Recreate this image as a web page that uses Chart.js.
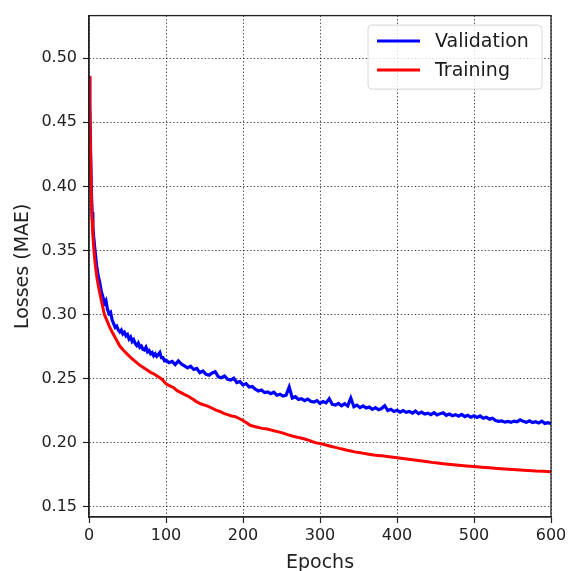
<!DOCTYPE html>
<html>
<head>
<meta charset="utf-8">
<script src="https://cdn.jsdelivr.net/npm/chart.js@4/dist/chart.umd.min.js"></script>
<style>
html,body{margin:0;padding:0;background:#fff;}
#wrap{width:578px;height:571px;position:relative;}
</style>
</head>
<body>
<div id="wrap"><canvas id="c" width="578" height="571"></canvas></div>
<script>
const seriesNames = ['Validation', 'Training'];

const valEpochs = [0,1,2,3,4,5,6,8,10,12,14,16,18,20,22,24,26,28,30,32,34,36,38,40,42,44,46,48,50,52,54,56,58,60,62,64,66,68,70,72,74,76,78,80,82,84,86,88,90,92,94,96,98,
100,104,108,112,116,120,124,128,132,136,140,144,148,152,156,160,164,168,172,176,180,184,188,192,196,200,204,208,212,216,220,224,228,232,236,240,244,248,252,256,260,264,268,272,276,280,284,288,292,296,300,304,308,312,316,320,324,328,332,336,340,344,348,352,356,360,364,368,372,376,380,384,388,392,396,400,404,408,412,416,420,424,428,432,436,440,444,448,452,456,460,464,468,472,476,480,484,488,492,496,500,504,508,512,516,520,524,528,532,536,540,544,548,552,556,560,564,568,572,576,580,584,588,592,596,600];
const valLoss = [0.486,0.465,0.430,0.398,0.380,0.369,0.361,0.349,0.338,0.330,0.325,0.318,0.314,0.309,0.311,0.304,0.301,0.302,0.296,0.293,0.290,0.291,0.288,0.2865,0.288,0.285,0.2862,0.2835,0.2845,0.281,0.2825,0.279,0.2805,0.2775,0.276,0.2778,0.2745,0.2755,0.273,0.2725,0.2745,0.271,0.272,0.2695,0.2705,0.268,0.2695,0.2675,0.269,0.2705,0.2665,0.2665,0.264,
0.2645,0.2625,0.2635,0.2610,0.2640,0.2615,0.2600,0.2585,0.2598,0.2572,0.2580,0.2548,0.2560,0.2535,0.2528,0.2545,0.2555,0.2515,0.2508,0.2522,0.2495,0.2490,0.2505,0.2470,0.2478,0.2452,0.2462,0.2435,0.2440,0.2418,0.2405,0.2412,0.2392,0.2398,0.2384,0.2395,0.2372,0.2380,0.2365,0.2372,0.2435,0.2350,0.2360,0.2338,0.2345,0.2330,0.2342,0.2325,0.2318,0.2330,0.2308,0.2322,0.2312,0.2345,0.2300,0.2295,0.2308,0.2290,0.2305,0.2288,0.2350,0.2282,0.2295,0.2275,0.2288,0.2272,0.2280,0.2262,0.2275,0.2258,0.2268,0.2290,0.2252,0.2262,0.2245,0.2255,0.2240,0.2252,0.2238,0.2245,0.2232,0.2248,0.2228,0.2240,0.2225,0.2232,0.2220,0.2235,0.2218,0.2228,0.2235,0.2215,0.2225,0.2212,0.2220,0.2208,0.2222,0.2205,0.2215,0.2200,0.2212,0.2198,0.2210,0.2192,0.2200,0.2185,0.2192,0.2175,0.2168,0.2172,0.2162,0.2168,0.2160,0.2170,0.2165,0.2180,0.2168,0.2160,0.2172,0.2158,0.2165,0.2155,0.2170,0.2152,0.2158,0.2150];

const trainEpochs = [0,1,2,3,4,5,6,7,8,10,12,14,16,20,25,27,30,35,40,45,50,55,60,65,70,75,80,85,90,95,100,105,110,115,120,125,130,135,140,145,150,155,160,165,170,175,180,185,190,195,200,205,210,215,220,225,230,235,240,245,250,255,260,265,270,275,280,285,290,295,300,305,310,315,320,325,330,335,340,345,350,355,360,365,370,375,380,385,390,395,400,405,410,415,420,425,430,435,440,445,450,460,470,480,490,500,510,520,530,540,550,560,570,580,590,600];
const trainLoss = [0.486,0.462,0.425,0.392,0.374,0.362,0.353,0.346,0.340,0.330,0.323,0.317,0.311,0.300,0.293,0.290,0.2865,0.281,0.2755,0.272,0.269,0.266,0.2635,0.261,0.259,0.257,0.255,0.2535,0.2515,0.2495,0.246,0.2445,0.243,0.2405,0.239,0.2375,0.236,0.234,0.232,0.2305,0.2295,0.2285,0.227,0.2255,0.2245,0.223,0.222,0.221,0.2205,0.219,0.2175,0.2155,0.2135,0.2128,0.212,0.2113,0.211,0.2103,0.2095,0.2088,0.208,0.207,0.206,0.2052,0.2045,0.2038,0.203,0.2022,0.201,0.200,0.1995,0.1988,0.198,0.1972,0.1965,0.1957,0.195,0.1943,0.1937,0.193,0.1925,0.192,0.1915,0.191,0.1905,0.1902,0.1899,0.1896,0.1892,0.1888,0.1884,0.188,0.1876,0.1872,0.1868,0.1864,0.186,0.1856,0.1852,0.1848,0.1845,0.1838,0.1832,0.1826,0.182,0.1815,0.181,0.1806,0.1801,0.1797,0.1792,0.1788,0.1784,0.178,0.1778,0.1775];

const xTicks = [0,100,200,300,400,500,600];
const yTicks = [0.15,0.20,0.25,0.30,0.35,0.40,0.45,0.50];

const FONT = "'DejaVu Sans', sans-serif";

const framePlugin = {
  id: 'frame',
  afterDatasetsDraw(chart) {
    const {ctx, chartArea: a} = chart;
    ctx.save();
    ctx.strokeStyle = '#222';
    ctx.lineWidth = 1.3;
    ctx.strokeRect(a.left, a.top, a.right - a.left, a.bottom - a.top);
    ctx.restore();
  }
};

const legendPlugin = {
  id: 'boxLegend',
  afterDraw(chart) {
    const {ctx, chartArea: a} = chart;
    const right = a.right - 9, top = a.top + 9.5;
    const w = 174, h = 64;
    const left = right - w;
    ctx.save();
    ctx.beginPath();
    ctx.roundRect(left, top, w, h, 4);
    ctx.fillStyle = 'rgba(255,255,255,0.8)';
    ctx.fill();
    ctx.strokeStyle = '#d6d6d6';
    ctx.lineWidth = 1;
    ctx.stroke();
    ctx.font = '19px ' + FONT;
    ctx.textBaseline = 'middle';
    chart.data.datasets.forEach((ds, i) => {
      const y = top + 16 + i * 29;
      ctx.strokeStyle = ds.borderColor;
      ctx.lineWidth = 3;
      ctx.beginPath();
      ctx.moveTo(left + 9, y);
      ctx.lineTo(left + 52, y);
      ctx.stroke();
      ctx.fillStyle = '#1a1a1a';
      ctx.fillText(ds.label, left + 67, y + 1);
    });
    ctx.restore();
  }
};

new Chart(document.getElementById('c'), {
  type: 'line',
  data: {
    datasets: [
      {
        label: seriesNames[0],
        data: valEpochs.map((e, i) => ({x: e, y: valLoss[i]})),
        borderColor: '#0000ff',
        borderWidth: 3.2,
        pointRadius: 0,
        tension: 0,
        fill: false,
        order: 1
      },
      {
        label: seriesNames[1],
        data: trainEpochs.map((e, i) => ({x: e, y: trainLoss[i]})),
        borderColor: '#ff0000',
        borderWidth: 3,
        pointRadius: 0,
        tension: 0,
        fill: false,
        order: 0
      }
    ]
  },
  options: {
    responsive: false,
    animation: false,
    events: [],
    layout: {padding: {top: 13.5, right: 27, left: 0, bottom: 0}},
    plugins: {legend: {display: false}, tooltip: {enabled: false}},
    scales: {
      x: {
        type: 'linear',
        min: 0,
        max: 600,
        afterBuildTicks: s => { s.ticks = xTicks.map(v => ({value: v})); },
        afterFit: s => { s.height = 54; },
        grid: {color: 'rgba(0,0,0,0.75)', lineWidth: 1, tickLength: 6, tickColor: '#222', tickWidth: 1.2, drawOnChartArea: true},
        border: {display: true, color: '#222', width: 1.3, dash: [1.3, 2.2]},
        ticks: {font: {family: FONT, size: 16}, color: '#222', padding: 3, maxRotation: 0, autoSkip: false, callback: v => String(v)},
        title: {display: true, text: 'Epochs', font: {family: FONT, size: 19}, color: '#222', padding: {top: 0, bottom: -3}}
      },
      y: {
        type: 'linear',
        min: 0.1422,
        max: 0.5332,
        afterBuildTicks: s => { s.ticks = yTicks.map(v => ({value: v})); },
        afterFit: s => { s.width = 89; },
        grid: {color: 'rgba(0,0,0,0.75)', lineWidth: 1, tickLength: 6, tickColor: '#222', tickWidth: 1.2},
        border: {display: true, color: '#222', width: 1.3, dash: [1.3, 2.2]},
        ticks: {font: {family: FONT, size: 16}, color: '#222', padding: 6, autoSkip: false, callback: v => v.toFixed(2)},
        title: {display: true, text: 'Losses (MAE)', font: {family: FONT, size: 19}, color: '#222', padding: {top: 12, bottom: 0}}
      }
    }
  },
  plugins: [framePlugin, legendPlugin]
});
</script>
</body>
</html>
